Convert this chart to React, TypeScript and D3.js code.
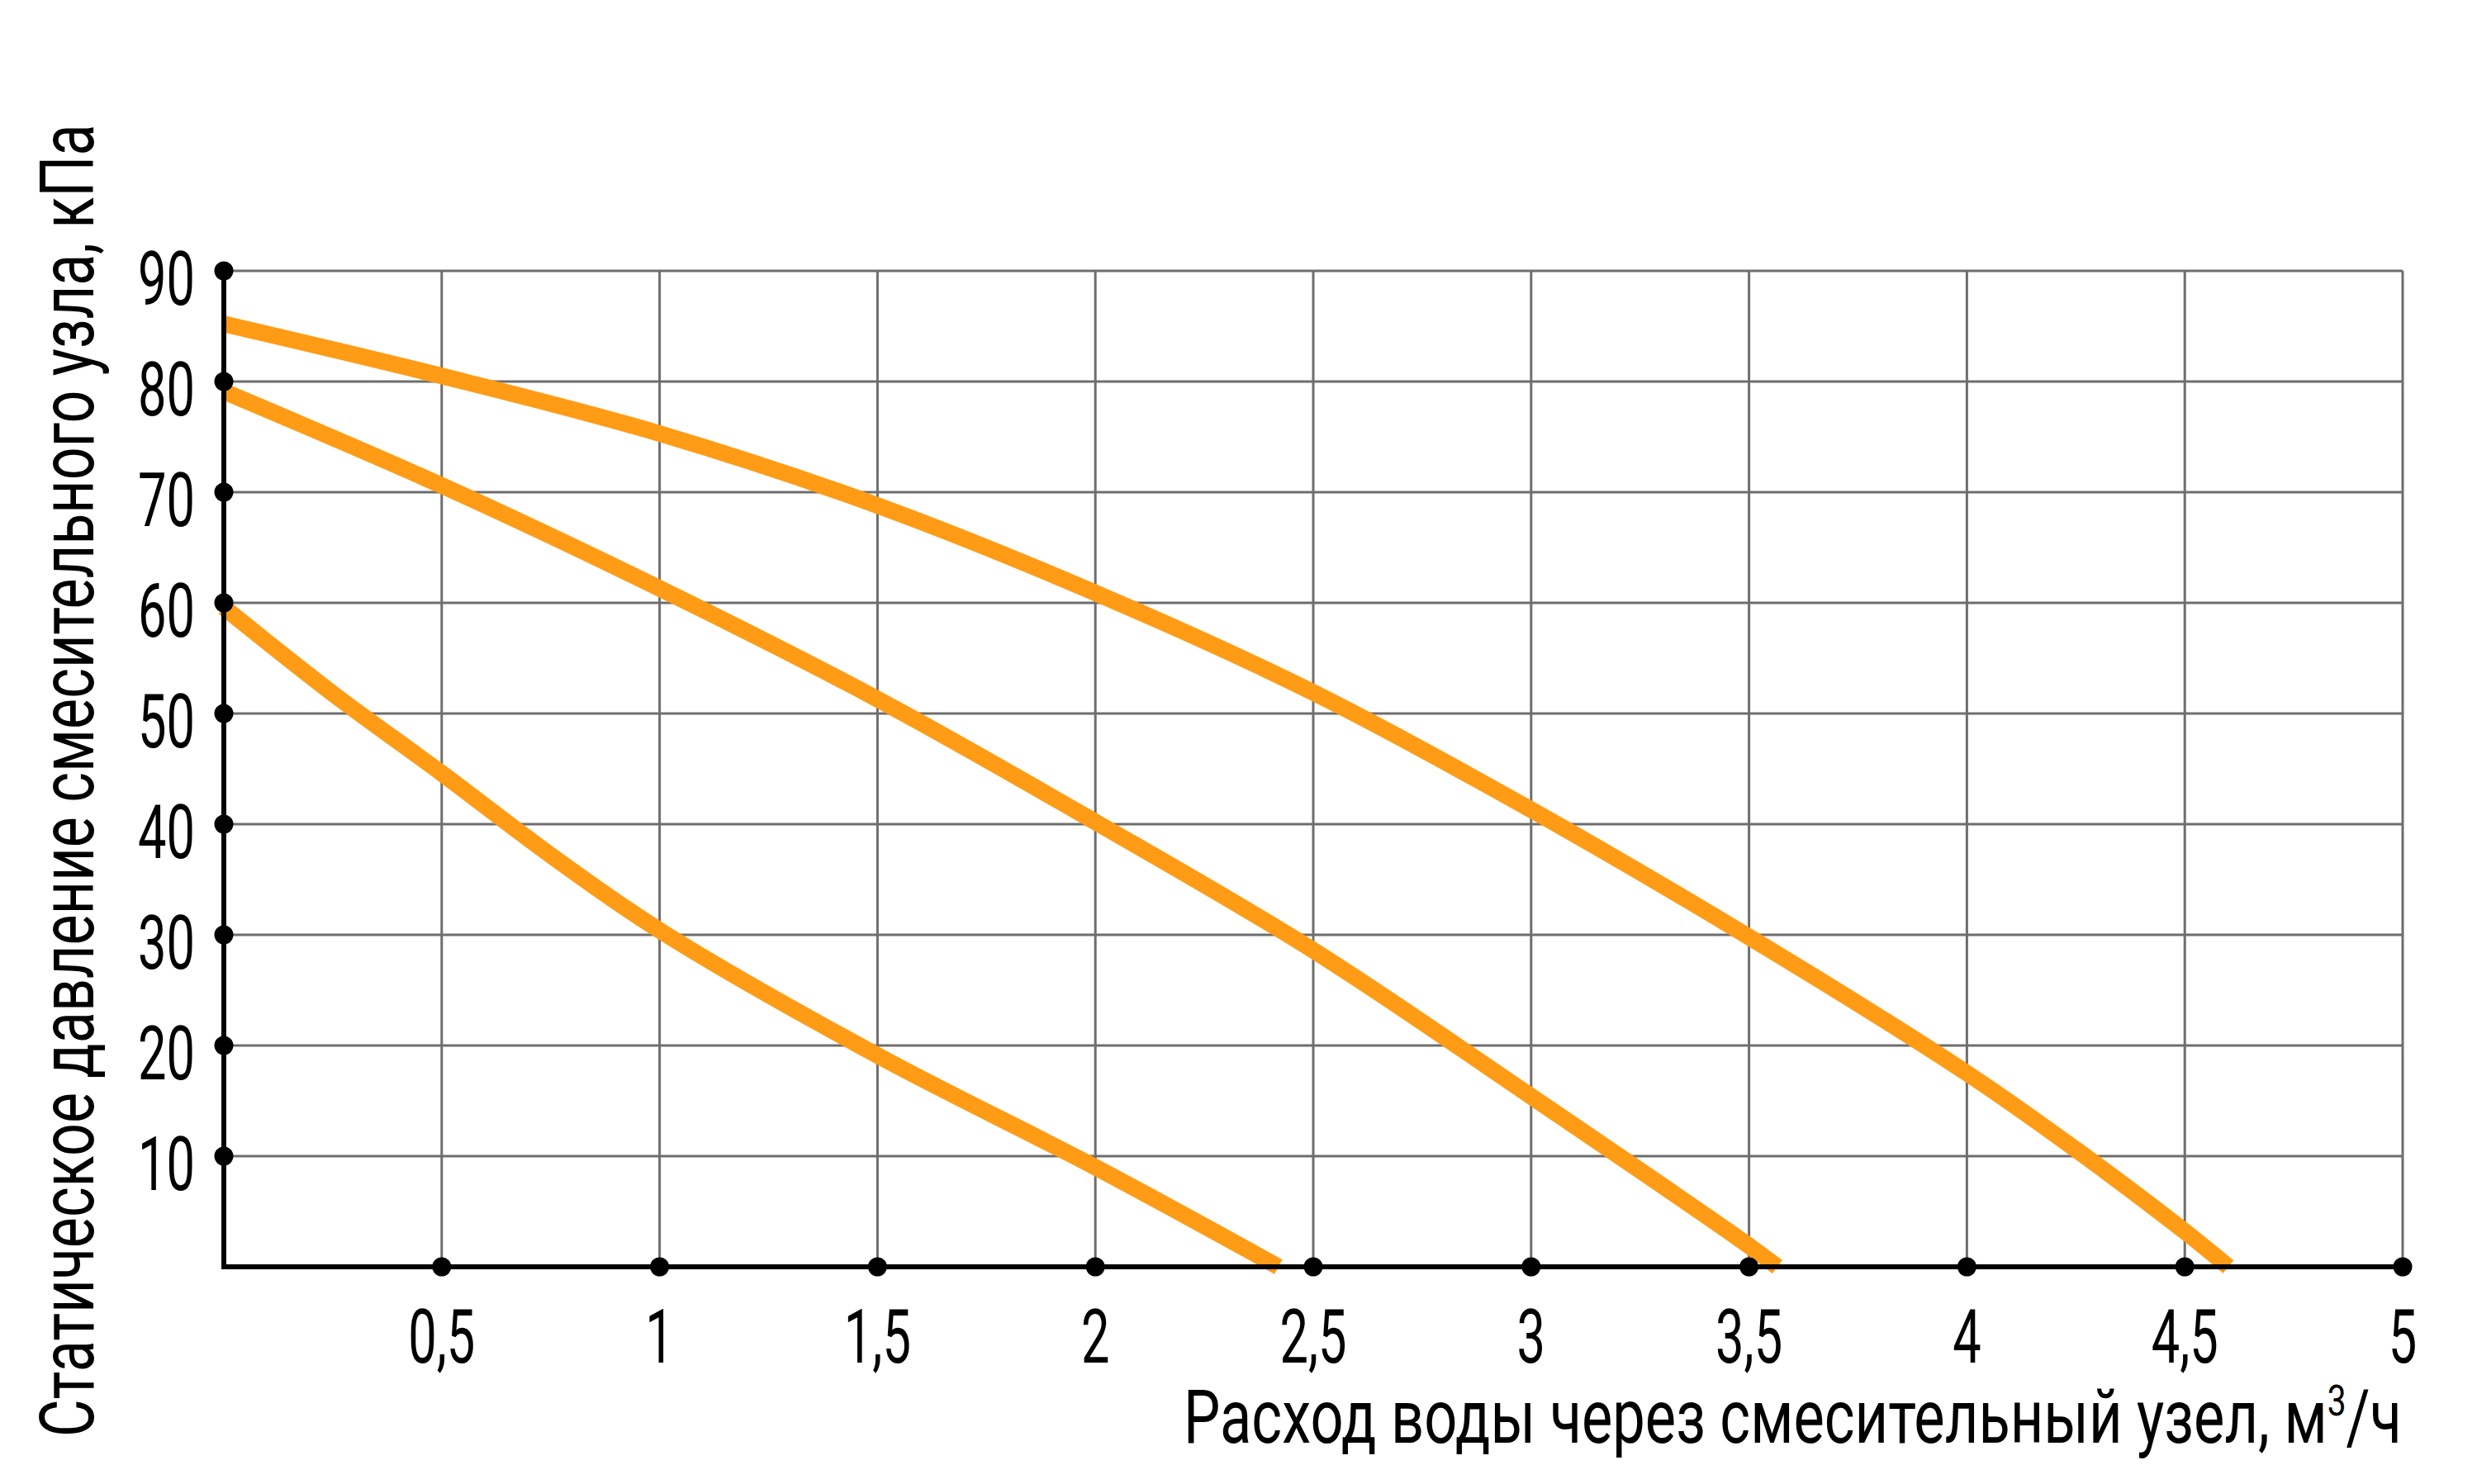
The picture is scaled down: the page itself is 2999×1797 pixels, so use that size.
import { useEffect, useRef } from 'react';
import * as d3 from 'd3';

// Расход воды, м³/ч  and  статическое давление, кПа
const flowLow = [0, 0.25, 0.5, 0.75, 1, 1.5, 2, 2.42];
const pressureLow = [59.6, 51.8, 44.6, 37.2, 30.4, 19.1, 9.0, 0];

const flowMid = [0, 0.5, 1, 1.5, 2, 2.5, 3, 3.5, 3.565];
const pressureMid = [79.1, 70.6, 61.3, 51.3, 40.2, 28.6, 15.4, 1.9, 0];

const flowHigh = [0, 0.5, 1, 1.5, 2, 2.5, 3, 3.5, 4, 4.25, 4.5, 4.6];
const pressureHigh = [85.2, 80.5, 75.3, 68.8, 60.9, 51.9, 41.3, 29.8, 17.5, 10.6, 3.2, 0];

const X_TICKS = [0.5, 1, 1.5, 2, 2.5, 3, 3.5, 4, 4.5, 5];
const X_TICK_LABELS = ['0,5', '1', '1,5', '2', '2,5', '3', '3,5', '4', '4,5', '5'];
const Y_TICKS = [10, 20, 30, 40, 50, 60, 70, 80, 90];

const X_TITLE = 'Расход воды через смесительный узел, м';
const Y_TITLE = 'Статическое давление смесительного узла, кПа';

const WIDTH = 2999;
const HEIGHT = 1797;
const FONT = 'Roboto, "Noto Sans", sans-serif';
const ORANGE = '#ff9b14';
const GRID = '#6e6e6e';

function Chart() {
  const svgRef = useRef<SVGSVGElement>(null);

  useEffect(() => {
    if (!svgRef.current) return;
    const svg = d3.select(svgRef.current);
    svg.selectAll('*').remove();

    const x = d3.scaleLinear().domain([0, 5]).range([271, 2909]);
    const y = d3.scaleLinear().domain([0, 90]).range([1534, 328]);

    // Grid
    const grid = svg.append('g').attr('stroke', GRID).attr('stroke-width', 3);
    Y_TICKS.forEach(v => {
      grid.append('line')
        .attr('x1', x(0)).attr('x2', x(5)).attr('y1', y(v)).attr('y2', y(v));
    });
    X_TICKS.forEach(v => {
      grid.append('line')
        .attr('x1', x(v)).attr('x2', x(v)).attr('y1', y(0)).attr('y2', y(90));
    });

    // Curves
    const series: [number[], number[]][] = [
      [flowLow, pressureLow],
      [flowMid, pressureMid],
      [flowHigh, pressureHigh],
    ];
    const line = d3.line<[number, number]>()
      .x(d => x(d[0]))
      .y(d => y(d[1]))
      .curve(d3.curveCatmullRom.alpha(0.5));
    series.forEach(([fx, py]) => {
      const pts = fx.map((f, i) => [f, py[i]] as [number, number]);
      svg.append('path')
        .datum(pts)
        .attr('fill', 'none')
        .attr('stroke', ORANGE)
        .attr('stroke-width', 20)
        .attr('stroke-linecap', 'butt')
        .attr('d', line);
    });

    // Axes
    svg.append('path')
      .attr('d', `M${x(0)},${y(90)}V${y(0)}H${x(5)}`)
      .attr('fill', 'none')
      .attr('stroke', '#000')
      .attr('stroke-width', 6)
      .attr('stroke-linejoin', 'miter');

    // Dots
    Y_TICKS.forEach(v => {
      svg.append('circle').attr('cx', x(0)).attr('cy', y(v)).attr('r', 11.5).attr('fill', '#000');
    });
    X_TICKS.forEach(v => {
      svg.append('circle').attr('cx', x(v)).attr('cy', y(0)).attr('r', 11.5).attr('fill', '#000');
    });

    // Condensing factor for tick labels, measured on "90"
    const probe = svg.append('text').attr('font-family', FONT).attr('font-size', 90).text('90');
    const probeW = (probe.node() as SVGTextElement).getBBox().width || 92;
    probe.remove();
    const k = 69 / probeW;

    // Y tick labels
    Y_TICKS.forEach(v => {
      svg.append('text')
        .attr('transform', `translate(236,${y(v) + 41}) scale(${k},1)`)
        .attr('text-anchor', 'end')
        .attr('font-family', FONT)
        .attr('font-size', 90)
        .attr('fill', '#000')
        .text(String(v));
    });

    // X tick labels
    X_TICKS.forEach((v, i) => {
      svg.append('text')
        .attr('transform', `translate(${x(v)},1650) scale(${k},1)`)
        .attr('text-anchor', 'middle')
        .attr('font-family', FONT)
        .attr('font-size', 90)
        .attr('fill', '#000')
        .text(X_TICK_LABELS[i]);
    });

    // X title with superscript
    const xt = svg.append('text')
      .attr('font-family', FONT)
      .attr('font-size', 90)
      .attr('fill', '#000');
    xt.append('tspan').text(X_TITLE);
    xt.append('tspan').attr('font-size', 52).attr('dy', -33).text('3');
    xt.append('tspan').attr('dy', 33).text('/ч');
    const xtb = (xt.node() as SVGTextElement).getBBox();
    xt.attr('transform', `translate(${1433 - xtb.x * (1475 / xtb.width)},1747) scale(${1475 / xtb.width},1)`);

    // Y title
    const yt = svg.append('text')
      .attr('font-family', FONT)
      .attr('font-size', 90)
      .attr('fill', '#000')
      .text(Y_TITLE);
    const ytb = (yt.node() as SVGTextElement).getBBox();
    const sy = 1590 / ytb.width;
    yt.attr('transform', `translate(113,${1740 + ytb.x * sy}) rotate(-90) scale(${sy},1)`);
  }, []);

  return (
    <svg
      ref={svgRef}
      width={WIDTH}
      height={HEIGHT}
      style={{ position: 'absolute', left: 0, top: 0, background: '#fff' }}
    />
  );
}

export default function App() {
  return <Chart />;
}
